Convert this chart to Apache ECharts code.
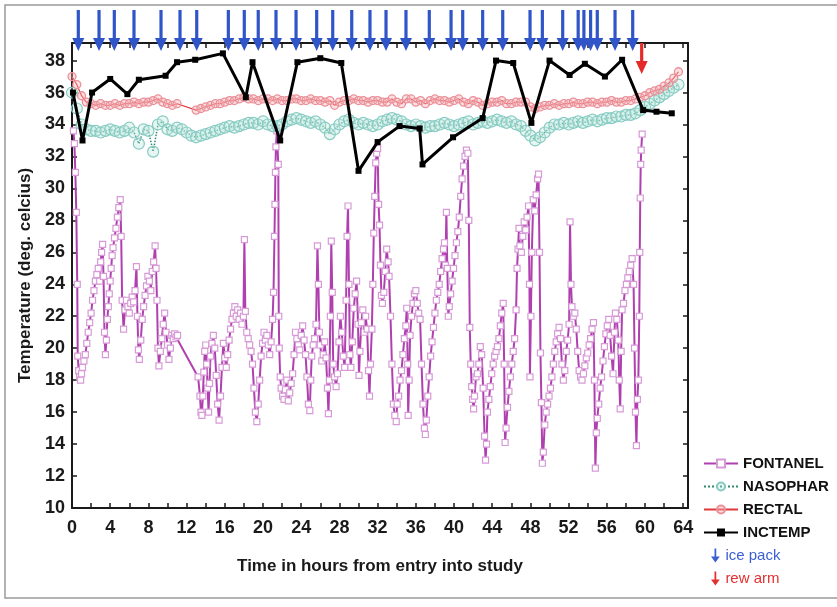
<!DOCTYPE html>
<html>
<head>
<meta charset="utf-8">
<script src="https://cdn.jsdelivr.net/npm/echarts@6/dist/echarts.min.js"></script>
<style>
  html, body { margin: 0; padding: 0; background: #fff; }
  #chart { width: 837px; height: 607px; }
</style>
</head>
<body>
<div id="chart"></div>
<script>
// x = hours from entry into study, y = temperature (deg C)
const yMin = 10
const yMax = 39.1
const xMax = 64.5

// time of each ice pack / rewarming of arm (arrows on top)
const icePackTimes = [0.66, 2.83, 4.43, 6.49, 9.32, 11.31, 13.06, 16.37, 18.04, 19.5, 21.36,
  23.46, 25.62, 27.3, 29.29, 31.2, 32.88, 34.97, 37.41, 39.69, 40.91, 43.0, 45.1, 47.96,
  49.25, 51.38, 53.0, 53.6, 54.3, 55.0, 56.86, 58.71]
const rewarmTimes = [59.65]

// incubator temperature [hour, temp]
const inctemp = [[0.1, 36.0], [1.1, 33.0], [2.1, 36.0], [4.0, 36.85], [5.8, 35.9], [7.0, 36.8],
  [9.8, 37.05], [11.0, 37.9], [12.9, 38.05], [15.8, 38.45], [18.2, 35.7], [18.9, 37.9],
  [21.8, 33.0], [23.6, 37.9], [26.0, 38.15], [28.2, 37.85], [30.0, 31.1], [32.0, 32.9],
  [34.3, 33.9], [36.4, 33.75], [36.7, 31.5], [39.9, 33.2], [43.0, 34.4], [44.4, 38.0],
  [46.2, 37.85], [48.1, 34.1], [50.0, 38.0], [52.1, 37.1], [53.7, 37.8], [55.8, 37.0],
  [57.6, 38.05], [59.8, 34.9], [61.2, 34.8], [62.8, 34.7]]

// rectal and nasopharyngeal, one reading every half hour from hour 0
const sampleStep = 0.5
const rectal = [
  37.0, 36.5, 35.8, 35.4, 35.3, 35.2, 35.3, 35.2, 35.2, 35.3,
  35.2, 35.3, 35.3, 35.4, 35.3, 35.4, 35.4, 35.5, 35.6, 35.4,
  35.3, 35.2, 35.3, null, null, null, 34.9, 35.0, 35.1, 35.2,
  35.3, 35.3, 35.4, 35.5, 35.5, 35.6, 35.7, 35.6, 35.6, 35.5,
  35.6, 35.6, 35.5, 35.6, 35.5, 35.5, 35.6, 35.6, 35.5, 35.5,
  35.6, 35.5, 35.5, 35.4, 35.5, 35.2, 35.4, 35.5, 35.5, 35.6,
  35.5, 35.5, 35.4, 35.5, 35.5, 35.4, 35.4, 35.6, 35.4, 35.3,
  35.6, 35.6, 35.4, 35.5, 35.3, 35.5, 35.6, 35.5, 35.5, 35.4,
  35.5, 35.6, 35.4, 35.3, 35.5, 35.4, 35.2, 35.3, 35.4, 35.4,
  35.5, 35.3, 35.3, 35.4, 35.4, 35.4, 35.1, 35.0, 35.1, 35.2,
  35.2, 35.3, 35.2, 35.3, 35.3, 35.4, 35.3, 35.3, 35.4, 35.4,
  35.3, 35.4, 35.4, 35.5, 35.4, 35.4, 35.5, 35.5, 35.6, 35.7,
  35.8, 36.0, 36.1, 36.2, 36.4, 36.6, 36.9, 37.3]
const nasophar = [
  36.0, 35.0, 34.0, 33.7, 33.6, 33.6, 33.5, 33.6, 33.7, 33.6,
  33.5, 33.6, 33.8, 33.5, 32.8, 33.7, 33.6, 32.3, 34.0, 34.2,
  33.7, 33.6, 33.8, 33.7, 33.5, 33.3, 33.2, 33.3, 33.4, 33.5,
  33.6, 33.7, 33.8, 33.9, 33.8, 33.9, 34.0, 34.1, 34.1, 34.0,
  34.2, 34.0, 33.9, 33.9, 34.0, 34.2, 34.3, 34.4, 34.3, 34.2,
  34.1, 34.2, 34.0, 33.8, 33.4, 33.7, 34.0, 34.2, 34.3, 34.1,
  34.0, 34.1, 34.0, 33.9, 34.0, 34.2, 34.3, 34.4, 34.3, 34.2,
  34.0, 33.9, 34.0, 33.9, 33.8, 33.9, 33.9, 34.0, 34.1, 34.0,
  33.9, 34.0, 34.1, 34.2, 34.0, 34.1, 34.2, 34.1, 34.2, 34.3,
  34.2, 34.1, 34.2, 34.0, 33.9, 33.6, 33.3, 33.0, 33.2, 33.5,
  33.8, 34.0, 34.0, 34.1, 34.0, 34.1, 34.2, 34.1, 34.2, 34.3,
  34.2, 34.3, 34.4, 34.4, 34.5, 34.5, 34.6, 34.6, 34.7, 34.9,
  35.1, 35.3, 35.5, 35.7, 35.9, 36.1, 36.3, 36.5]

// fontanel [hour, temp]
const fontanel = [
  [0.15, 33.6], [0.25, 32.8], [0.35, 31.0], [0.45, 28.5], [0.55, 24.0], [0.6, 19.5], [0.7, 18.6],
  [0.8, 18.2], [0.9, 18.0], [1.0, 18.4], [1.1, 18.8], [1.25, 19.2], [1.4, 19.6], [1.55, 20.3],
  [1.7, 21.0], [1.85, 21.6], [2.0, 22.2], [2.15, 23.0], [2.3, 23.6], [2.45, 24.2], [2.6, 24.6],
  [2.75, 25.0], [2.9, 24.2], [3.0, 25.4], [3.1, 26.0], [3.2, 26.5], [3.3, 24.5], [3.4, 21.0],
  [3.5, 19.6], [3.6, 20.5], [3.7, 21.8], [3.8, 22.6], [3.9, 23.4], [4.0, 24.2], [4.1, 25.0],
  [4.2, 25.8], [4.3, 26.3], [4.45, 26.9], [4.6, 27.5], [4.75, 28.2], [4.9, 28.8], [5.05, 29.3],
  [5.15, 27.0], [5.25, 23.0], [5.4, 21.2], [5.55, 22.4], [5.7, 23.0], [5.85, 22.6], [6.0, 22.2],
  [6.15, 22.8], [6.3, 23.2], [6.45, 22.9], [6.6, 23.6], [6.75, 25.1], [6.85, 22.0], [6.95, 19.9],
  [7.05, 19.3], [7.2, 20.5], [7.35, 21.8], [7.5, 22.6], [7.65, 23.3], [7.8, 23.9], [7.95, 24.5],
  [8.1, 24.2], [8.25, 23.6], [8.4, 24.8], [8.55, 25.4], [8.7, 26.4], [8.8, 25.0], [8.9, 23.0],
  [9.0, 20.0], [9.1, 18.9], [9.25, 19.8], [9.4, 20.6], [9.55, 21.5], [9.7, 22.2], [9.85, 21.0],
  [10.0, 20.2], [10.15, 19.3], [10.3, 20.0], [10.45, 20.8], [10.6, 20.6], [10.75, 20.9],
  [10.9, 20.7], [11.05, 20.8], [13.2, 18.2], [13.4, 17.0], [13.5, 16.0], [13.6, 15.8],
  [13.7, 17.0], [13.8, 18.5], [13.9, 19.8], [14.0, 20.2], [14.1, 19.0], [14.2, 17.5], [14.3, 16.0],
  [14.4, 17.8], [14.5, 19.5], [14.65, 20.3], [14.8, 20.8], [14.95, 20.0], [15.1, 18.3],
  [15.25, 16.5], [15.4, 15.5], [15.55, 17.0], [15.7, 18.8], [15.85, 20.3], [16.0, 19.4],
  [16.15, 18.8], [16.3, 19.6], [16.45, 20.5], [16.6, 21.2], [16.75, 21.8], [16.9, 22.2],
  [17.05, 22.6], [17.2, 22.0], [17.35, 22.4], [17.5, 21.8], [17.65, 22.2], [17.8, 21.5],
  [17.95, 22.0], [18.05, 26.8], [18.15, 22.3], [18.3, 21.0], [18.45, 20.6], [18.6, 20.2],
  [18.75, 19.8], [18.9, 19.0], [19.05, 17.5], [19.2, 16.0], [19.35, 15.4], [19.5, 16.5],
  [19.65, 18.0], [19.8, 19.5], [19.95, 20.3], [20.1, 21.0], [20.25, 20.5], [20.4, 20.8],
  [20.55, 20.2], [20.7, 19.6], [20.85, 20.4], [21.0, 21.8], [21.1, 23.5], [21.2, 27.0],
  [21.25, 29.0], [21.3, 31.0], [21.35, 32.6], [21.45, 33.6], [21.6, 31.5], [21.65, 22.0],
  [21.7, 20.0], [21.8, 18.2], [21.9, 17.5], [22.05, 17.0], [22.2, 16.8], [22.35, 17.4],
  [22.5, 18.0], [22.65, 16.7], [22.8, 17.2], [22.95, 17.8], [23.1, 18.4], [23.25, 19.6],
  [23.4, 21.0], [23.55, 20.6], [23.7, 20.2], [23.85, 19.9], [24.0, 20.8], [24.15, 21.4],
  [24.3, 20.5], [24.45, 19.6], [24.6, 18.2], [24.75, 16.5], [24.9, 16.1], [25.0, 18.0],
  [25.1, 19.5], [25.25, 20.2], [25.4, 20.6], [25.55, 21.5], [25.7, 26.4], [25.8, 24.0],
  [25.9, 21.0], [26.0, 20.2], [26.15, 19.2], [26.3, 19.6], [26.45, 20.4], [26.6, 19.4],
  [26.75, 17.5], [26.85, 15.9], [26.95, 18.0], [27.05, 22.0], [27.15, 26.7], [27.25, 23.5],
  [27.35, 19.0], [27.5, 18.2], [27.65, 17.6], [27.8, 18.4], [27.95, 20.4], [28.1, 22.0],
  [28.25, 21.0], [28.4, 19.5], [28.55, 18.8], [28.7, 23.0], [28.8, 27.0], [28.9, 28.9],
  [29.0, 24.0], [29.1, 19.6], [29.2, 18.8], [29.35, 20.4], [29.5, 22.5], [29.65, 23.4],
  [29.8, 24.2], [29.95, 21.5], [30.05, 18.3], [30.15, 19.8], [30.3, 21.6], [30.45, 22.4],
  [30.6, 21.0], [30.75, 22.0], [30.9, 21.2], [31.05, 18.6], [31.15, 17.0], [31.25, 19.0],
  [31.4, 21.2], [31.5, 24.0], [31.6, 27.2], [31.7, 29.5], [31.8, 31.6], [31.9, 32.2],
  [32.0, 32.5], [32.1, 29.0], [32.2, 27.7], [32.3, 25.2], [32.4, 23.3], [32.5, 22.8],
  [32.65, 23.5], [32.8, 24.8], [32.95, 26.2], [33.1, 25.4], [33.2, 24.5], [33.35, 22.0],
  [33.5, 19.0], [33.65, 16.5], [33.8, 15.8], [33.95, 15.4], [34.05, 16.5], [34.2, 17.0],
  [34.35, 18.0], [34.5, 18.6], [34.65, 19.6], [34.8, 20.6], [34.95, 21.4], [35.05, 22.5],
  [35.15, 19.0], [35.2, 15.8], [35.3, 18.0], [35.4, 20.8], [35.55, 22.0], [35.7, 22.8],
  [35.85, 23.4], [36.0, 23.6], [36.15, 22.8], [36.3, 22.2], [36.45, 21.8], [36.6, 19.0],
  [36.75, 16.5], [36.9, 15.0], [37.0, 14.6], [37.1, 15.5], [37.25, 17.0], [37.4, 18.2],
  [37.55, 19.5], [37.7, 20.4], [37.85, 21.3], [38.0, 22.2], [38.15, 23.0], [38.3, 23.5],
  [38.45, 24.0], [38.6, 24.8], [38.75, 25.6], [38.9, 26.2], [39.0, 26.6], [39.1, 25.2],
  [39.2, 28.5], [39.3, 25.0], [39.4, 22.0], [39.5, 22.6], [39.65, 23.4], [39.8, 24.2],
  [39.95, 25.0], [40.1, 25.8], [40.25, 26.6], [40.4, 27.3], [40.55, 28.2], [40.7, 29.5],
  [40.85, 30.6], [41.0, 31.4], [41.15, 32.0], [41.3, 32.4], [41.45, 32.2], [41.55, 28.0],
  [41.65, 21.3], [41.75, 19.0], [41.85, 17.6], [41.95, 16.8], [42.05, 16.2], [42.15, 17.0],
  [42.3, 18.2], [42.45, 18.4], [42.6, 19.0], [42.75, 20.1], [42.9, 19.6], [43.05, 17.5],
  [43.2, 14.5], [43.3, 13.0], [43.4, 14.0], [43.5, 16.0], [43.65, 16.8], [43.8, 17.6],
  [43.95, 18.4], [44.1, 19.0], [44.25, 19.5], [44.4, 19.8], [44.55, 20.1], [44.7, 20.6],
  [44.85, 21.4], [45.0, 22.2], [45.15, 22.8], [45.25, 19.0], [45.35, 14.1], [45.45, 15.0],
  [45.6, 16.3], [45.75, 17.3], [45.9, 18.2], [46.05, 19.0], [46.2, 19.8], [46.35, 20.6],
  [46.5, 22.4], [46.6, 25.0], [46.7, 26.2], [46.8, 27.5], [46.9, 26.4], [47.05, 26.0],
  [47.2, 27.0], [47.35, 27.9], [47.5, 27.4], [47.65, 28.2], [47.8, 28.9], [47.9, 24.0],
  [47.95, 18.2], [48.05, 22.0], [48.15, 26.0], [48.3, 29.3], [48.45, 28.6], [48.6, 29.6],
  [48.75, 30.6], [48.85, 30.9], [48.95, 26.0], [49.05, 19.7], [49.15, 16.6], [49.25, 12.8],
  [49.35, 13.5], [49.5, 15.2], [49.65, 16.0], [49.8, 16.5], [49.95, 17.0], [50.1, 17.5],
  [50.25, 18.2], [50.4, 19.0], [50.55, 19.8], [50.7, 20.4], [50.85, 20.9], [51.0, 21.3],
  [51.15, 20.6], [51.3, 19.0], [51.45, 18.0], [51.6, 18.6], [51.75, 19.8], [51.9, 20.5],
  [52.05, 21.5], [52.15, 27.9], [52.25, 24.0], [52.35, 22.6], [52.5, 22.0], [52.65, 22.2],
  [52.8, 21.2], [52.95, 19.8], [53.1, 18.6], [53.25, 18.2], [53.4, 18.0], [53.55, 18.4],
  [53.7, 18.9], [53.85, 19.4], [54.0, 19.7], [54.15, 20.2], [54.3, 20.6], [54.45, 21.2],
  [54.6, 21.6], [54.7, 18.0], [54.8, 12.5], [54.9, 14.7], [55.0, 15.6], [55.15, 16.5],
  [55.3, 17.5], [55.45, 18.2], [55.6, 19.2], [55.75, 20.1], [55.9, 20.9], [56.05, 21.4],
  [56.2, 21.8], [56.35, 20.8], [56.5, 19.5], [56.65, 18.4], [56.8, 21.0], [56.9, 22.2],
  [57.05, 21.8], [57.2, 20.5], [57.3, 18.0], [57.4, 16.2], [57.5, 19.8], [57.6, 22.4],
  [57.75, 22.8], [57.9, 23.6], [58.05, 24.0], [58.2, 24.4], [58.35, 24.8], [58.5, 25.2],
  [58.65, 25.6], [58.8, 24.0], [58.9, 20.0], [59.0, 16.0], [59.1, 13.9], [59.2, 16.8],
  [59.3, 18.0], [59.4, 22.0], [59.45, 26.0], [59.5, 29.4], [59.55, 31.5], [59.6, 32.4],
  [59.7, 33.4]]

const chart = echarts.init(document.getElementById('chart'))
const font = "'Liberation Sans', Arial, sans-serif"
const axisColor = '#1a1a1a'

// arrow drawn downward from the top of the plot box
function arrowRender (color, y0, y1, headLen, halfW) {
  return function (params, api) {
    const p = api.coord([api.value(0), api.value(1)])
    const x = p[0]
    const y = p[1]
    return {
      type: 'group',
      children: [{
        type: 'line',
        shape: { x1: x, y1: y + y0, x2: x, y2: y + y1 - headLen + 1 },
        style: { stroke: color, lineWidth: 3.2 }
      }, {
        type: 'polygon',
        shape: { points: [[x - halfW, y + y1 - headLen], [x + halfW, y + y1 - headLen], [x, y + y1]] },
        style: { fill: color }
      }]
    }
  }
}

const halfHour = (arr) => arr.map((v, i) => [i * sampleStep, v])
const arrowIcon = 'path://M4,0 L6,0 L6,9 L10,9 L5,16 L0,9 L4,9 Z'

// the box: plain axes on all four sides, ticks pointing in
function frameAxis (extra) {
  return Object.assign({
    type: 'value',
    interval: 2,
    axisLine: { show: true, onZero: false, lineStyle: { color: axisColor, width: 2 } },
    axisTick: { show: true, inside: true, length: 5, lineStyle: { color: axisColor, width: 1.5 } },
    axisLabel: { show: false },
    splitLine: { show: false }
  }, extra)
}
const tickLabel = {
  show: true,
  fontFamily: font,
  fontWeight: 'bold',
  fontSize: 18,
  color: axisColor
}

const option = {
  backgroundColor: '#fff',
  animation: false,
  graphic: [{
    type: 'rect',
    shape: { x: 5, y: 5, width: 900, height: 593 },
    style: { fill: 'none', stroke: '#9a9a9a', lineWidth: 1.5 },
    z: -10
  }],
  grid: {
    left: 72,
    right: 149,
    top: 43,
    bottom: 99
  },
  legend: [{
    data: ['FONTANEL', 'NASOPHAR', 'RECTAL', 'INCTEMP'],
    orient: 'vertical',
    left: 698,
    top: 451,
    itemWidth: 34,
    itemHeight: 10,
    itemGap: 8,
    textStyle: { fontFamily: font, fontWeight: 'bold', fontSize: 15, color: '#111' }
  }, {
    data: [
      { name: 'ice pack', textStyle: { color: '#3b5fd0' } },
      { name: 'rew arm', textStyle: { color: '#e23030' } }
    ],
    orient: 'vertical',
    left: 706,
    top: 543,
    icon: arrowIcon,
    itemWidth: 10,
    itemHeight: 14,
    itemGap: 8,
    textStyle: { fontFamily: font, fontSize: 15 }
  }],
  xAxis: [frameAxis({
    min: 0,
    max: xMax,
    position: 'bottom',
    name: 'Time in hours from entry into study',
    nameLocation: 'middle',
    nameGap: 50,
    nameTextStyle: { fontFamily: font, fontWeight: 'bold', fontSize: 17, color: axisColor },
    axisLabel: Object.assign({ margin: 11, formatter: (v) => (v % 4 === 0 ? v : '') }, tickLabel)
  }), frameAxis({
    min: 0,
    max: xMax,
    position: 'top'
  })],
  yAxis: [frameAxis({
    min: yMin,
    max: yMax,
    position: 'left',
    name: 'Temperature (deg. celcius)',
    nameLocation: 'middle',
    nameGap: 38,
    nameTextStyle: { fontFamily: font, fontWeight: 'bold', fontSize: 17, color: axisColor },
    axisLabel: Object.assign({ margin: 7, formatter: (v) => (v % 2 === 0 ? v : '') }, tickLabel)
  }), frameAxis({
    min: yMin,
    max: yMax,
    position: 'right'
  })],
  series: [{
    name: 'FONTANEL',
    type: 'line',
    data: fontanel,
    symbol: 'rect',
    symbolSize: 6,
    showAllSymbol: true,
    lineStyle: { color: '#b040b0', width: 2 },
    itemStyle: { color: '#fff', borderColor: '#d79ad7', borderWidth: 1.2 },
    z: 3
  }, {
    name: 'NASOPHAR',
    type: 'line',
    data: halfHour(nasophar),
    symbol: 'circle',
    symbolSize: 11,
    showAllSymbol: true,
    lineStyle: { color: '#2e8b6e', width: 1.5, type: 'dotted' },
    itemStyle: { color: 'rgba(185,228,222,0.35)', borderColor: '#86cbc2', borderWidth: 1.2 },
    z: 4
  }, {
    name: 'RECTAL',
    type: 'line',
    data: halfHour(rectal),
    connectNulls: true,
    symbol: 'circle',
    symbolSize: 8,
    showAllSymbol: true,
    lineStyle: { color: '#e03838', width: 1.2 },
    itemStyle: { color: 'rgba(245,175,180,0.4)', borderColor: '#ea9099', borderWidth: 1.3 },
    z: 5
  }, {
    name: 'INCTEMP',
    type: 'line',
    data: inctemp,
    symbol: 'rect',
    symbolSize: 6,
    lineStyle: { color: '#000', width: 3 },
    itemStyle: { color: '#000' },
    z: 6
  }, {
    name: 'ice pack',
    type: 'custom',
    data: icePackTimes.map((t) => [t, yMax]),
    renderItem: arrowRender('#2f55c8', -33, 8, 13, 6),
    itemStyle: { color: '#3b5fd0' },
    clip: false,
    silent: true,
    z: 10
  }, {
    name: 'rew arm',
    type: 'custom',
    data: rewarmTimes.map((t) => [t, yMax]),
    renderItem: arrowRender('#e52a2a', 0, 31, 13, 6),
    itemStyle: { color: '#e23030' },
    clip: false,
    silent: true,
    z: 10
  }]
}

chart.setOption(option)
</script>
</body>
</html>
